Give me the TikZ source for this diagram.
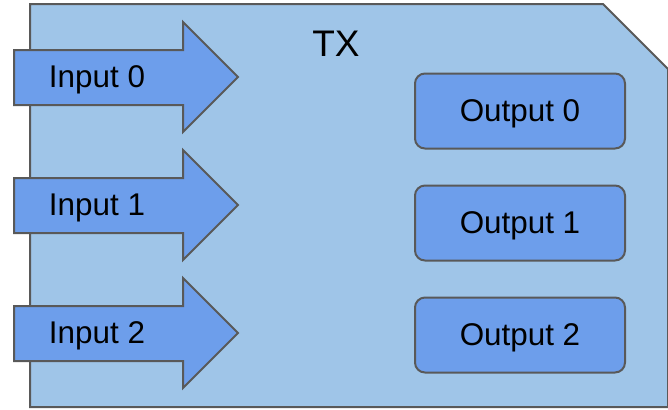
\documentclass[tikz,border=0pt]{standalone}
\usepackage{fontspec}
\setmainfont{Liberation Sans}
\usepackage{tikz}
\usetikzlibrary{positioning}

\definecolor{txfill}{HTML}{9FC5E8}
\definecolor{portfill}{HTML}{6D9EEB}
\definecolor{edgegray}{HTML}{595959}

\begin{document}
\begin{tikzpicture}[x=0.5pt,y=-0.5pt,
    every node/.style={font=\fontsize{15.7}{18}\selectfont,text depth=0pt},
    outbox/.style={rectangle,draw=edgegray,fill=portfill,line width=1pt,rounded corners=5pt,
        minimum width=105pt,minimum height=37.5pt}]
    \useasboundingbox (0,0) rectangle (668,409);
    % 外框 TX
    \draw[draw=edgegray,fill=txfill,line width=1pt]
        (30,4) -- (603,4) -- (668,69) -- (668,407) -- (30,407) -- cycle;
    \node[font=\fontsize{18.5}{21}\selectfont] (tx) at (336,44) {TX};
    % 三个输入箭头
    \foreach \i in {0,1,2} {
        \draw[draw=edgegray,fill=portfill,line width=1pt,line join=miter]
            (14,\i*128+50) -- (183,\i*128+50) -- (183,\i*128+22) -- (238,\i*128+77)
            -- (183,\i*128+132) -- (183,\i*128+105) -- (14,\i*128+105) -- cycle;
        \node (in\i) at (97,\i*128+77) {Input \i};
    }
    % 三个输出框
    \foreach \i in {0,1,2} {
        \node[outbox] (out\i) at (520,\i*112+111) {Output \i};
    }
\end{tikzpicture}
\end{document}
